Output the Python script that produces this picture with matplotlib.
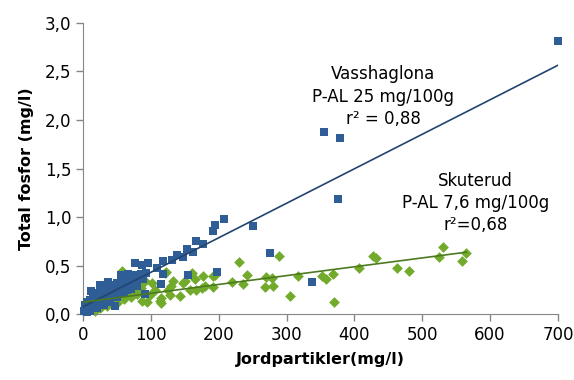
import numpy as np
import matplotlib
matplotlib.use("Agg")
import matplotlib.pyplot as plt

## Data

# Vasshaglona (blue squares)
vass_x = [700, 355, 378, 376, 208, 194, 192, 251, 275, 337, 167, 176, 153, 162,
          138, 147, 131, 117, 95, 76, 86, 109, 93, 117, 155, 197, 114, 91, 66, 47,
          2, 3, 5, 6, 8, 10, 12, 14, 16, 18, 20, 22, 25, 27, 30, 32, 35, 37, 40,
          42, 45, 48, 50, 52, 55, 58, 60, 62, 65, 68, 70, 72, 75, 78, 80, 85, 88,
          1, 4, 9, 15, 28,
          10, 20, 30, 40, 50, 60, 70, 80, 12, 24, 36, 56, 64]
vass_y = [2.81, 1.88, 1.81, 1.19, 0.98, 0.92, 0.86, 0.91, 0.63, 0.33, 0.75, 0.72,
          0.67, 0.64, 0.61, 0.59, 0.56, 0.55, 0.53, 0.53, 0.51, 0.48, 0.42, 0.41,
          0.40, 0.44, 0.31, 0.21, 0.41, 0.09,
          0.05, 0.10, 0.02, 0.13, 0.07, 0.15, 0.09, 0.18, 0.12, 0.20, 0.14, 0.22,
          0.17, 0.25, 0.19, 0.27, 0.22, 0.15, 0.28, 0.20, 0.30, 0.24, 0.32, 0.26,
          0.33, 0.28, 0.35, 0.30, 0.36, 0.32, 0.38, 0.30, 0.40, 0.34, 0.37, 0.41,
          0.36, 0.03, 0.06, 0.11, 0.08, 0.14,
          0.03, 0.06, 0.10, 0.13, 0.18, 0.22, 0.26, 0.29, 0.24, 0.30, 0.33, 0.40, 0.25]

# Skuterud (green diamonds)
skut_x = [57, 230, 242, 219, 236, 192, 177, 160, 167, 192, 143, 115, 115, 94, 101,
          84, 130, 120, 150, 128, 106, 69, 37, 27, 17, 288, 270, 279, 268, 280,
          305, 317, 352, 358, 368, 370, 406, 427, 432, 463, 481, 525, 531, 564,
          558, 180, 122, 91, 133, 147, 165, 113, 86, 125, 175, 157, 98, 194,
          5, 10, 20, 25, 30, 35, 40, 45, 50, 55, 60, 65, 70, 75, 80, 85]
skut_y = [0.45, 0.54, 0.40, 0.33, 0.31, 0.39, 0.39, 0.42, 0.25, 0.28, 0.19, 0.17,
          0.12, 0.13, 0.32, 0.29, 0.29, 0.42, 0.34, 0.20, 0.25, 0.20, 0.28, 0.08,
          0.03, 0.60, 0.38, 0.37, 0.28, 0.29, 0.19, 0.39, 0.39, 0.36, 0.41, 0.13,
          0.48, 0.60, 0.58, 0.48, 0.45, 0.59, 0.69, 0.63, 0.55, 0.29, 0.44, 0.34,
          0.34, 0.32, 0.36, 0.14, 0.14, 0.25, 0.27, 0.25, 0.20, 0.40,
          0.05, 0.08, 0.10, 0.06, 0.12, 0.09, 0.15, 0.18, 0.12, 0.20, 0.16, 0.22,
          0.18, 0.25, 0.21, 0.27]

# trend lines: intercept, slope, x-range
vass_trend = [0.078, 0.00355, 0, 700]
skut_trend = [0.125, 0.00091, 0, 565]

x_ticks = [0, 100, 200, 300, 400, 500, 600, 700]
y_ticks = [0.0, 0.5, 1.0, 1.5, 2.0, 2.5, 3.0]
y_tick_labels = ["0,0", "0,5", "1,0", "1,5", "2,0", "2,5", "3,0"]

vass_text = "Vasshaglona\nP-AL 25 mg/100g\nr\u00b2 = 0,88"
skut_text = "Skuterud\nP-AL 7,6 mg/100g\nr\u00b2=0,68"

## Plot

blue = "#2F5D96"
green = "#72AA2C"
grey = "#868686"

fig = plt.figure(figsize=(5.74, 3.80), dpi=100)
ax = fig.add_axes([0.145, 0.173, 0.827, 0.767])

ax.scatter(skut_x, skut_y, marker="D", s=30, color=green, linewidths=0,
           zorder=2, clip_on=False)
ax.scatter(vass_x, vass_y, marker="s", s=32, color=blue, linewidths=0,
           zorder=3, clip_on=False)

for tr, col in [(vass_trend, "#22446F"), (skut_trend, "#4C7A1F")]:
    xx = np.array([tr[2], tr[3]])
    ax.plot(xx, tr[0] + tr[1]*xx, color=col, linewidth=1.2, zorder=4)

ax.text(442, 2.24, vass_text, ha="center", va="center", fontsize=12,
        linespacing=1.3, multialignment="center")
ax.text(578, 1.145, skut_text, ha="center", va="center", fontsize=12,
        linespacing=1.3, multialignment="center")

ax.set_xlim(0, 700)
ax.set_ylim(0, 3.0)
ax.set_xticks(x_ticks)
ax.set_yticks(y_ticks)
ax.set_yticklabels(y_tick_labels)
ax.tick_params(axis="both", labelsize=12, color=grey, length=5, width=1)

for side in ["top", "right"]:
    ax.spines[side].set_visible(False)
for side in ["left", "bottom"]:
    ax.spines[side].set_color(grey)

ax.set_xlabel("Jordpartikler(mg/l)", fontsize=11.5, fontweight="bold", labelpad=6)
ax.set_ylabel("Total fosfor (mg/l)", fontsize=11.5, fontweight="bold", labelpad=8)

fig.savefig("out.png", dpi=100)
